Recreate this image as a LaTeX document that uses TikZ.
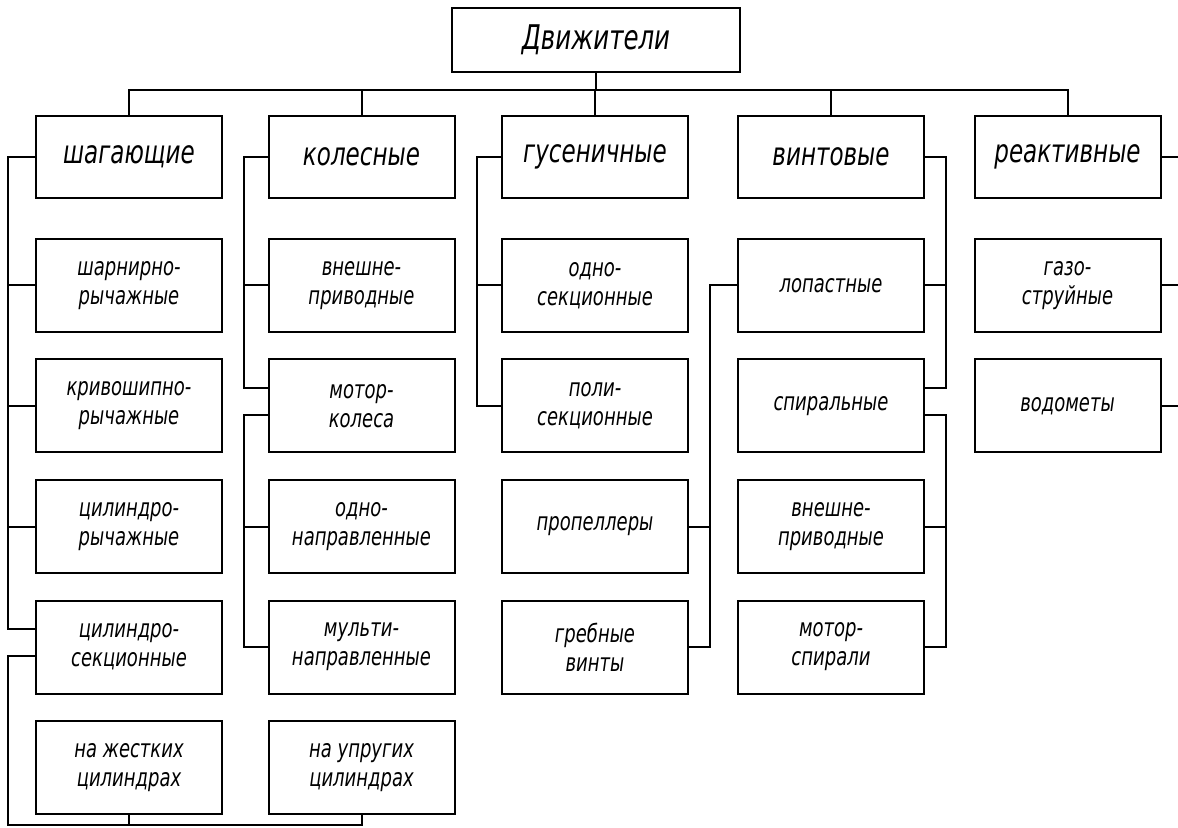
\documentclass[tikz,border=0pt]{standalone}
\usepackage{fontspec}
\setmainfont{DejaVu Sans}[FakeStretch=0.72]
\usetikzlibrary{positioning}

\begin{document}
\begin{tikzpicture}[
  x=0.5pt, y=0.5pt,
  root/.style={draw, line width=1pt, minimum width=144pt, minimum height=32pt,
               font=\fontsize{17}{19}\selectfont\itshape, inner sep=2pt},
  kind/.style={draw, line width=1pt, minimum width=93pt, minimum height=41pt,
               font=\fontsize{16}{18}\selectfont\itshape, inner sep=2pt},
  sub/.style={draw, line width=1pt, minimum width=93pt, minimum height=46.5pt, align=center,
              font=\fontsize{12.5}{14.5}\selectfont\itshape, inner sep=2pt},
  wire/.style={line width=1pt},
  node distance=12.75pt]
\useasboundingbox (0,0) rectangle (1178,-828);
\node[root] (dv) at (596,-40) {Движители};
\node[kind] (sh) at (129,-157) {шагающие};
\node[kind] (ko) at (361.5,-157) {колесные};
\node[kind] (gu) at (595,-157) {гусеничные};
\node[kind] (vi) at (831,-157) {винтовые};
\node[kind] (re) at (1067.5,-157) {реактивные};
% walking
\node[sub, below=19.5pt of sh] (sh1) {шарнирно-\\рычажные};
\node[sub, below=of sh1] (sh2) {кривошипно-\\рычажные};
\node[sub, below=of sh2] (sh3) {цилиндро-\\рычажные};
\node[sub, below=of sh3] (sh4) {цилиндро-\\секционные};
\node[sub, below=of sh4] (sh5) {на жестких\\цилиндрах};
% wheeled
\node[sub, below=19.5pt of ko] (ko1) {внешне-\\приводные};
\node[sub, below=of ko1] (ko2) {мотор-\\колеса};
\node[sub, below=of ko2] (ko3) {одно-\\направленные};
\node[sub, below=of ko3] (ko4) {мульти-\\направленные};
\node[sub, below=of ko4] (up) {на упругих\\цилиндрах};
% tracked
\node[sub, below=19.5pt of gu] (gu1) {одно-\\секционные};
\node[sub, below=of gu1] (gu2) {поли-\\секционные};
\node[sub, below=of gu2] (gu3) {пропеллеры};
\node[sub, below=of gu3] (gu4) {гребные\\винты};
% screw
\node[sub, below=19.5pt of vi] (vi1) {лопастные};
\node[sub, below=of vi1] (vi2) {спиральные};
\node[sub, below=of vi2] (vi3) {внешне-\\приводные};
\node[sub, below=of vi3] (vi4) {мотор-\\спирали};
% jet
\node[sub, below=19.5pt of re] (re1) {газо-\\струйные};
\node[sub, below=of re1] (re2) {водометы};

% top bus
\coordinate[below=8.5pt of dv.south] (bus);
\draw[wire] (dv.south) -- (bus);
\draw[wire] (sh.north) |- (bus) -| (re.north);
\foreach \k in {ko,gu,vi}
  \draw[wire] (\k.north) -- (\k.north |- bus);

\coordinate (bot) at (0,-825);
\coordinate (edge) at (1178,0);
\coordinate[left=13.5pt of sh.west] (s1);
\coordinate[left=12pt of ko.west] (k1);
\coordinate[left=12pt of gu.west] (g1);
\coordinate[left=13.5pt of vi1.west] (v0);
\coordinate[right=10.5pt of vi.east] (v1);

% walking
\draw[wire] (sh.west) -- (s1) |- ([yshift=9pt]sh4.west);
\foreach \n in {sh1,sh2,sh3}
  \draw[wire] (\n.west) -- (\n.west -| s1);
\draw[wire] ([yshift=-4.5pt]sh4.west) -| (s1 |- bot) -| (up.south);
\draw[wire] (sh5.south) -- (sh5.south |- bot);
% wheeled
\draw[wire] (ko.west) -- (k1) |- ([yshift=9pt]ko2.west);
\draw[wire] (ko1.west) -- (ko1.west -| k1);
\draw[wire] ([yshift=-4.5pt]ko2.west) -| (k1 |- ko4.west) -- (ko4.west);
\draw[wire] (ko3.west) -- (ko3.west -| k1);
% tracked
\draw[wire] (gu.west) -- (g1) |- (gu2.west);
\draw[wire] (gu1.west) -- (gu1.west -| g1);
% screw
\draw[wire] (vi.east) -- (v1) |- ([yshift=9pt]vi2.east);
\draw[wire] (vi1.east) -- (vi1.east -| v1);
\draw[wire] ([yshift=-4.5pt]vi2.east) -| (v1 |- vi4.east) -- (vi4.east);
\draw[wire] (vi3.east) -- (vi3.east -| v1);
\draw[wire] (vi1.west) -- (v0) |- (gu4.east);
\draw[wire] (gu3.east) -- (gu3.east -| v0);
% jet
\foreach \n in {re,re1,re2}
  \draw[wire] (\n.east) -- (\n.east -| edge);
\end{tikzpicture}
\end{document}
